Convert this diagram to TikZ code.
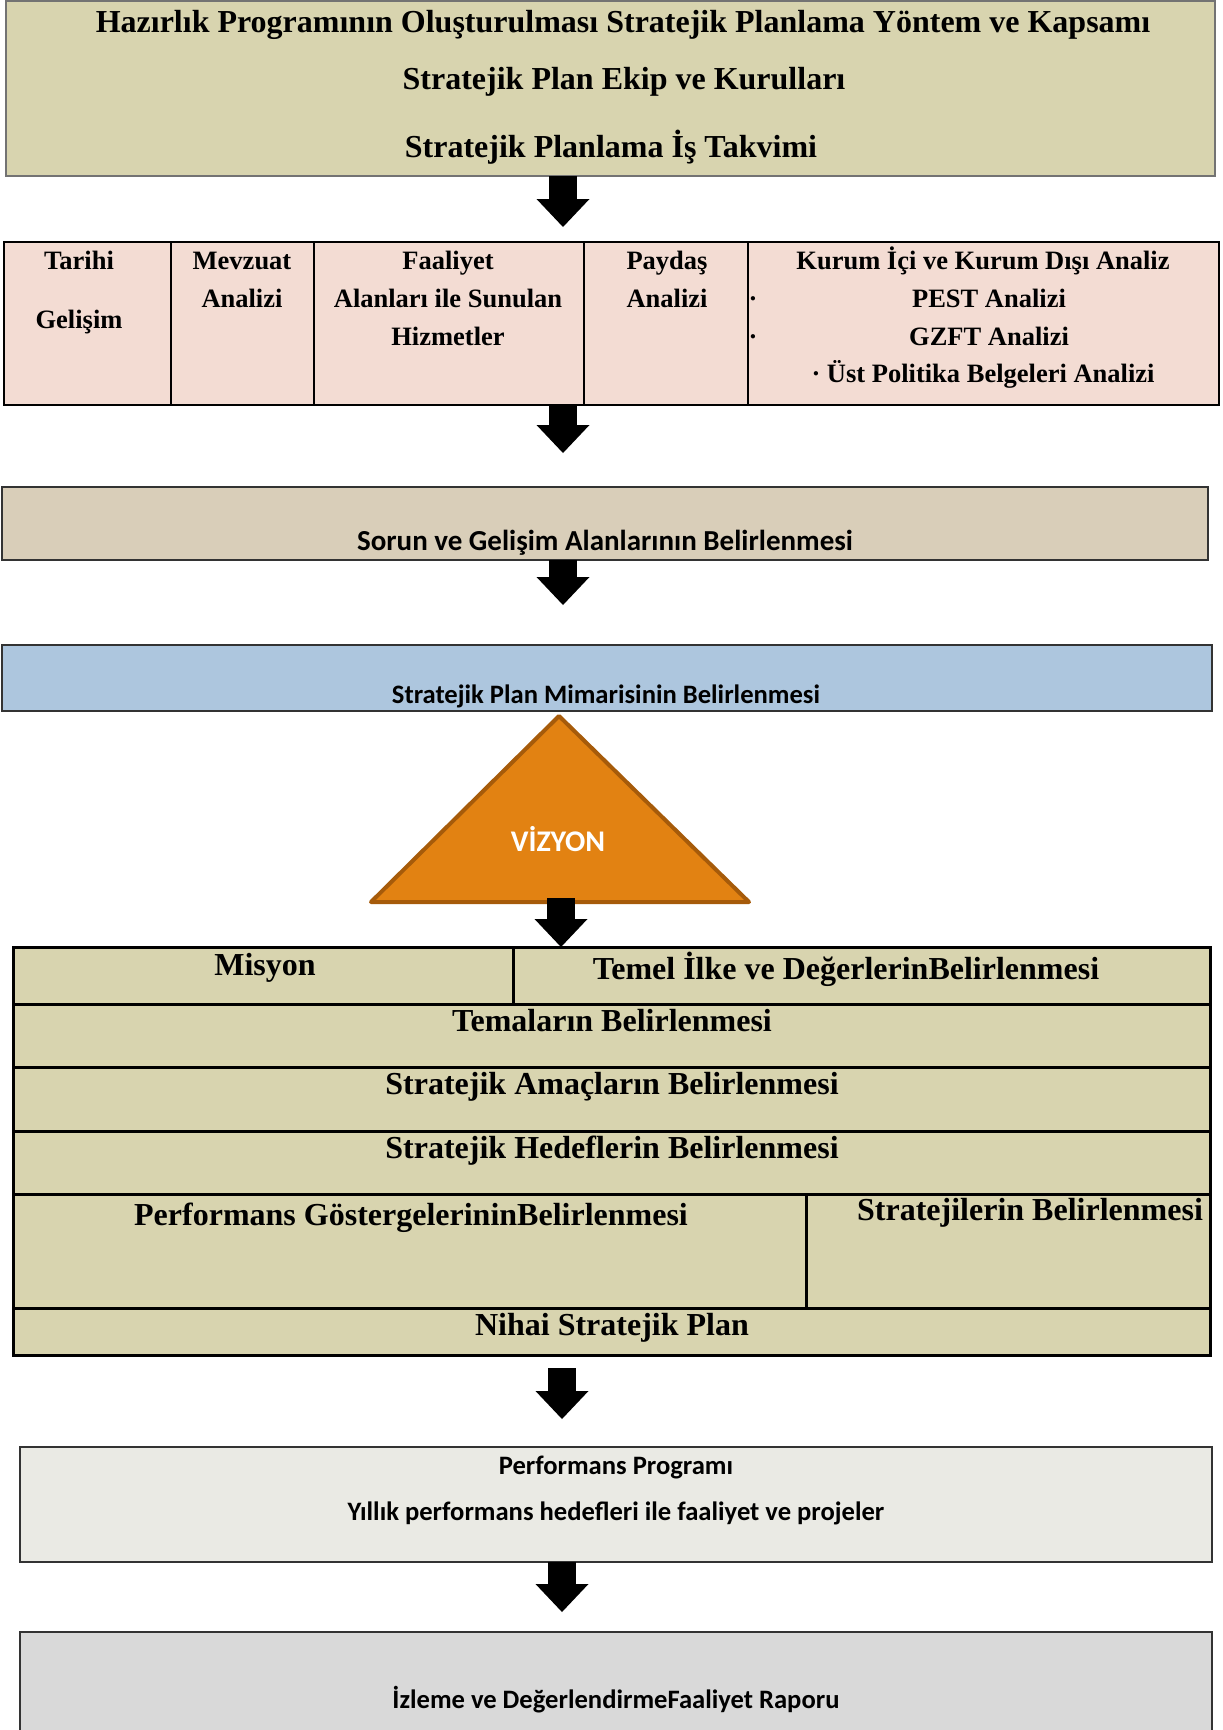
\documentclass[tikz,border=0pt]{standalone}
\usepackage{fontspec}
\setmainfont{Liberation Serif}
\newfontfamily\calibri{Carlito}
\usepackage{tikz}
\usetikzlibrary{
  arrows.meta,
  calc
}
\definecolor{prepFill}{RGB}{216,212,175}
\definecolor{tableFill}{RGB}{243,220,211}
\definecolor{sorunFill}{RGB}{217,206,185}
\definecolor{mimariFill}{RGB}{173,198,222}
\definecolor{vizyonFill}{RGB}{226,130,18}
\definecolor{vizyonEdge}{RGB}{166,91,10}
\definecolor{progFill}{RGB}{234,234,228}
\definecolor{izleFill}{RGB}{217,217,217}
\colorlet{planFill}{prepFill}
\tikzset{
  panel/.style={draw,inner sep=0pt,outer sep=0pt,anchor=north west},
  greypanel/.style={panel,draw=black!55,line width=2pt},
  darkpanel/.style={panel,draw=black!80,line width=2pt},
  cell/.style={panel,draw=black,line width=2.5pt},
}
\begin{document}
\begin{tikzpicture}[
  x=1pt, y=-1pt,
  serifText/.style={font=\fontsize{32}{38}\selectfont\bfseries,anchor=base,inner sep=0pt},
  cellText/.style={font=\fontsize{26.5}{31}\selectfont\bfseries,anchor=base,inner sep=0pt},
  sansText/.style={font=\calibri\fontsize{26.6}{32}\selectfont\bfseries,anchor=base,inner sep=0pt},
  blockArrow/.style={line width=28pt,-{Triangle[width=53pt,length=28pt,line width=0pt]}},
  vizyon/.style={fill=vizyonFill,draw=vizyonEdge,line width=4pt,line join=round}
]
\useasboundingbox (0,0) rectangle (1223,1730);

% hazirlik
\node[greypanel,fill=prepFill,minimum width=1209,minimum height=175] (prep) at (6,1) {};
\node[serifText] (prepA) at (623,32) {Hazırlık Programının Oluşturulması Stratejik Planlama Yöntem ve Kapsamı};
\node[serifText] (prepB) at (624,89) {Stratejik Plan Ekip ve Kurulları};
\node[serifText] (prepC) at (611,157) {Stratejik Planlama İş Takvimi};

% analizler
\node[cell,fill=tableFill,minimum width=167,minimum height=163] (hist) at (4,242) {};
\node[cell,fill=tableFill,minimum width=143,minimum height=163] (mevz) at (171,242) {};
\node[cell,fill=tableFill,minimum width=270,minimum height=163] (faal) at (314,242) {};
\node[cell,fill=tableFill,minimum width=164,minimum height=163] (payd) at (584,242) {};
\node[cell,fill=tableFill,minimum width=471,minimum height=163] (kurum) at (748,242) {};
\node[cellText] (histA) at (79,269) {Tarihi};
\node[cellText] (histB) at (79,328) {Gelişim};
\node[cellText] (mevzA) at (242,269) {Mevzuat};
\node[cellText] (mevzB) at (242,307) {Analizi};
\node[cellText] (faalA) at (448,269) {Faaliyet};
\node[cellText] (faalB) at (448,307) {Alanları ile Sunulan};
\node[cellText] (faalC) at (448,345) {Hizmetler};
\node[cellText] (paydA) at (667,269) {Paydaş};
\node[cellText] (paydB) at (667,307) {Analizi};
\node[cellText] (kurumA) at (983,269) {Kurum İçi ve Kurum Dışı Analiz};
\node[cellText] (kurumB) at (989,307) {PEST Analizi};
\node[cellText] (kurumC) at (989,345) {GZFT Analizi};
\node[cellText] (kurumD) at (983,382) {· Üst Politika Belgeleri Analizi};
\node[cellText] (dotB) at (753,307) {·};
\node[cellText] (dotC) at (753,345) {·};

\coordinate (tipA) at (563,227);
\draw[blockArrow] (prep.south -| tipA) -- (tipA);
\coordinate (tipB) at (563,453);
\draw[blockArrow] (hist.south -| tipB) -- (tipB);

% sorun / mimari
\node[darkpanel,fill=sorunFill,minimum width=1206,minimum height=73] (sorun) at (2,487) {};
\node[sansText,font=\calibri\fontsize{29}{34}\selectfont\bfseries] (sorunT) at (605,550) {Sorun ve Gelişim Alanlarının Belirlenmesi};
\coordinate (tipC) at (563,605);
\draw[blockArrow] (sorun.south -| tipC) -- (tipC);

\node[darkpanel,fill=mimariFill,minimum width=1210,minimum height=66] (mimari) at (2,645) {};
\node[sansText] (mimariT) at (606,703) {Stratejik Plan Mimarisinin Belirlenmesi};

% vizyon
\coordinate (vTop) at (559,716);
\coordinate (vLeft) at (371,902);
\coordinate (vRight) at (749,902);
\draw[vizyon] (vTop) -- (vRight) -- (vLeft) -- cycle;
\node[sansText,text=white,font=\calibri\fontsize{30}{35}\selectfont\bfseries] (vizyonT) at (558,851) {VİZYON};
\coordinate (vBase) at (561,898);
\coordinate (tipD) at (561,947);
\draw[blockArrow] (vBase) -- (tipD);

% plan
\node[cell,fill=planFill,line width=3pt,minimum width=500,minimum height=57] (mis) at (13,947) {};
\node[cell,fill=planFill,line width=3pt,minimum width=697,minimum height=57] (temel) at (513,947) {};
\node[cell,fill=planFill,line width=3pt,minimum width=1197,minimum height=63] (tema) at (13,1004) {};
\node[cell,fill=planFill,line width=3pt,minimum width=1197,minimum height=64] (amac) at (13,1067) {};
\node[cell,fill=planFill,line width=3pt,minimum width=1197,minimum height=63] (hedef) at (13,1131) {};
\node[cell,fill=planFill,line width=3pt,minimum width=793,minimum height=114] (gost) at (13,1194) {};
\node[cell,fill=planFill,line width=3pt,minimum width=404,minimum height=114] (strat) at (806,1194) {};
\node[cell,fill=planFill,line width=3pt,minimum width=1197,minimum height=47] (nihai) at (13,1308) {};
\node[serifText] (misT) at (265,975) {Misyon};
\node[serifText] (temelT) at (846,979) {Temel İlke ve DeğerlerinBelirlenmesi};
\node[serifText] (temaT) at (612,1031) {Temaların Belirlenmesi};
\node[serifText] (amacT) at (612,1094) {Stratejik Amaçların Belirlenmesi};
\node[serifText] (hedefT) at (612,1158) {Stratejik Hedeflerin Belirlenmesi};
\node[serifText] (gostT) at (411,1225) {Performans GöstergelerininBelirlenmesi};
\node[serifText] (stratT) at (1030,1220) {Stratejilerin Belirlenmesi};
\node[serifText] (nihaiT) at (612,1335) {Nihai Stratejik Plan};

\coordinate (arrE) at (562,1368);
\coordinate (tipE) at (562,1419);
\draw[blockArrow] (arrE) -- (tipE);

% performans programi
\node[darkpanel,fill=progFill,minimum width=1192,minimum height=115] (prog) at (20,1447) {};
\node[sansText] (progA) at (616,1474) {Performans Programı};
\node[sansText] (progB) at (616,1520) {Yıllık performans hedefleri ile faaliyet ve projeler};
\coordinate (tipF) at (562,1612);
\draw[blockArrow] (prog.south -| tipF) -- (tipF);

% izleme
\node[darkpanel,fill=izleFill,minimum width=1192,minimum height=130] (izle) at (20,1632) {};
\node[sansText] (izleT) at (616,1708) {İzleme ve DeğerlendirmeFaaliyet Raporu};
\end{tikzpicture}
\end{document}
